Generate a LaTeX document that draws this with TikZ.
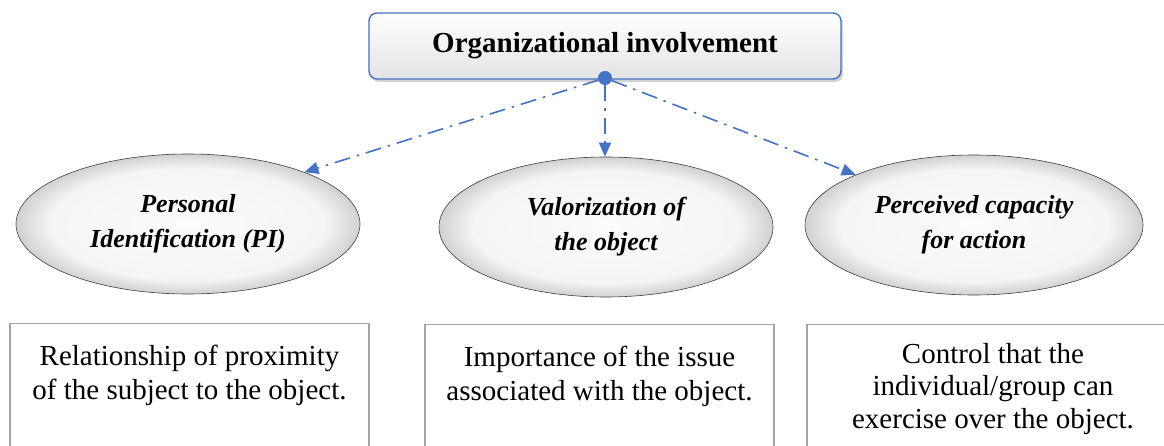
\documentclass[tikz,border=0pt]{standalone}
\usepackage{fontspec}
\setmainfont{LiberationSerif}[Extension=.ttf, UprightFont=*-Regular, BoldFont=*-Bold,
    ItalicFont=*-Italic, BoldItalicFont=*-BoldItalic]
\usetikzlibrary{shapes.geometric, arrows.meta, shadows}

\definecolor{linkblue}{HTML}{4472C4}
\definecolor{frame}{HTML}{A6A6A6}
\pgfdeclareradialshading{rim}{\pgfpoint{0bp}{0bp}}{color(0bp)=(gray!3);
    color(20bp)=(gray!8); color(25bp)=(gray!36); color(50bp)=(gray!36)}

\begin{document}
\begin{tikzpicture}[x=1pt, y=-1pt,
    head/.style={draw=linkblue, line width=1.4pt, rounded corners=8pt,
        top color=white, bottom color=gray!22, minimum width=472pt, minimum height=66pt,
        drop shadow={opacity=0.35, shadow xshift=2pt, shadow yshift=-3pt},
        font=\fontsize{29}{34}\selectfont\bfseries},
    dimension/.style={ellipse, draw=gray!50!black, line width=0.6pt, inner sep=0pt,
        shading=rim, minimum width=344pt, minimum height=140pt,
        align=center, font=\fontsize{26}{35}\selectfont\bfseries\itshape},
    descbox/.style={draw=frame, line width=1.2pt, anchor=north, minimum height=160pt},
    desctext/.style={anchor=north, align=center, inner sep=0pt,
        font=\fontsize{29}{34}\selectfont},
    link/.style={linkblue, line width=1.6pt, dash pattern=on 16pt off 7pt on 2.5pt off 7pt,
        -{Triangle[length=14pt, width=12pt]}}]

    \useasboundingbox (0,0) rectangle (1164,446);
    \clip (0,0) rectangle (1164,446);

    \node[head] (inv) at (605,46) {Organizational involvement};
    \node[circle, fill=linkblue, inner sep=0pt, minimum size=14pt] (hub) at (605,78) {};

    \node[dimension] (pi) at (188,224) {Personal\\Identification (PI)};
    \node[dimension, minimum width=334pt] (val) at (606,227) {Valorization of\\the object};
    \node[dimension, minimum width=338pt] (cap) at (974,225) {Perceived capacity\\for action};

    \draw[link] (hub) -- (pi.24);
    \draw[link] (hub) -- (hub |- val.north);
    \draw[link] (hub) -- (cap.157);

    % description boxes, open at the bottom edge
    \node[descbox, minimum width=359pt] (pibox) at (189.5,323) {};
    \node[descbox, minimum width=349pt] (valbox) at (599.5,324) {};
    \node[descbox, minimum width=400pt] (capbox) at (1007,324) {};

    \node[desctext] (pitext) at ([yshift=-22pt]pibox.north) {Relationship of proximity\\of the subject to the object.};
    \node[desctext] (valtext) at ([yshift=-22pt]valbox.north) {Importance of the issue\\associated with the object.};
    \node[desctext, font=\fontsize{29}{32.5}\selectfont] (captext) at ([xshift=-14pt, yshift=-19pt]capbox.north) {Control that the\\individual/group can\\exercise over the object.};
\end{tikzpicture}
\end{document}
